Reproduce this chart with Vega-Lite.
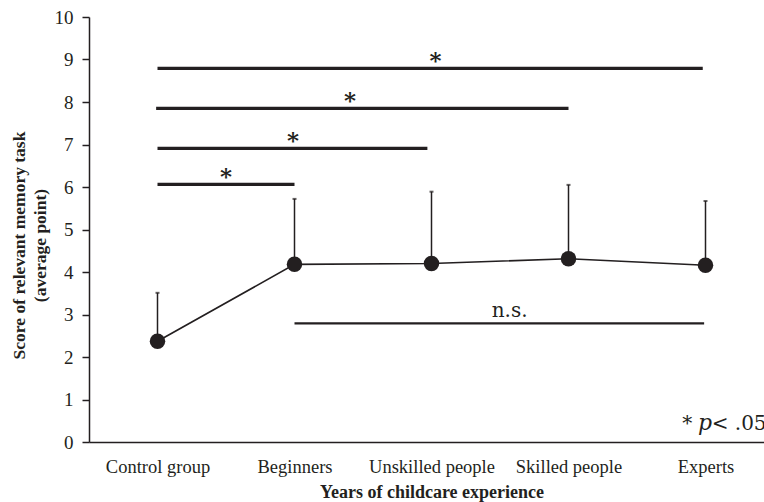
{
  "$schema": "https://vega.github.io/schema/vega-lite/v6.json",
  "width": 685,
  "height": 425,
  "autosize": {"type": "none"},
  "padding": {"left": 89, "top": 17, "right": 0, "bottom": 60},
  "background": "white",
  "config": {
    "view": {"stroke": null},
    "axis": {"grid": false, "domainColor": "#231f20", "tickColor": "#231f20", "labelColor": "#231f20", "titleColor": "#231f20", "labelFont": "Liberation Serif", "titleFont": "Liberation Serif"}
  },
  "datasets": {
    "groups": [
      {"group": "Control group", "pos": 0.5, "mean": 2.37, "upper": 3.51},
      {"group": "Beginners", "pos": 1.5, "mean": 4.18, "upper": 5.72},
      {"group": "Unskilled people", "pos": 2.5, "mean": 4.2, "upper": 5.89},
      {"group": "Skilled people", "pos": 3.5, "mean": 4.31, "upper": 6.05},
      {"group": "Experts", "pos": 4.5, "mean": 4.16, "upper": 5.67}
    ],
    "sig": [
      {"from": 0.5, "to": 4.48, "y": 8.79, "label": "*", "labelPos": 2.53},
      {"from": 0.49, "to": 3.5, "y": 7.85, "label": "*", "labelPos": 1.905},
      {"from": 0.5, "to": 2.47, "y": 6.91, "label": "*", "labelPos": 1.49},
      {"from": 0.5, "to": 1.5, "y": 6.06, "label": "*", "labelPos": 1.0}
    ],
    "ns": [
      {"from": 1.5, "to": 4.49, "y": 2.79, "label": "n.s.", "labelPos": 3.07}
    ],
    "note": [
      {"text": "*", "x": 4.33, "y": 0.28},
      {"text": "< .05", "x": 4.545, "y": 0.28}
    ],
    "noteItalic": [
      {"text": "p", "x": 4.445, "y": 0.28}
    ]
  },
  "layer": [
    {
      "data": {"name": "groups"},
      "mark": {"type": "rule", "color": "#231f20", "strokeWidth": 1.5},
      "encoding": {
        "x": {
          "field": "pos", "type": "quantitative",
          "scale": {"domain": [0, 5], "nice": false, "zero": false},
          "axis": {
            "values": [0.5, 1.5, 2.5, 3.5, 4.5],
            "labelExpr": "['Control group','Beginners','Unskilled people','Skilled people','Experts'][floor(datum.value)]",
            "ticks": false, "labelFontSize": 18.5, "labelPadding": 15,
            "title": "Years of childcare experience", "titleFontSize": 18, "titleFontWeight": "bold", "titlePadding": 8,
            "domainWidth": 1.5
          }
        },
        "y": {
          "field": "mean", "type": "quantitative",
          "scale": {"domain": [0, 10], "nice": false},
          "axis": {
            "values": [0, 1, 2, 3, 4, 5, 6, 7, 8, 9, 10],
            "tickSize": 7, "tickWidth": 1.5, "domainWidth": 1.5,
            "labelFontSize": 19, "labelPadding": 9,
            "title": ["Score of relevant memory task", "(average point)"],
            "titleFontSize": 17.5, "titleFontWeight": "bold", "titlePadding": 5, "titleLineHeight": 21,
            "titleY": 228
          }
        },
        "y2": {"field": "upper"}
      }
    },
    {
      "data": {"name": "groups"},
      "mark": {"type": "tick", "orient": "horizontal", "color": "#231f20", "size": 4, "thickness": 2},
      "encoding": {
        "x": {"field": "pos", "type": "quantitative"},
        "y": {"field": "upper", "type": "quantitative"}
      }
    },
    {
      "data": {"name": "groups"},
      "mark": {"type": "line", "color": "#231f20", "strokeWidth": 1.6},
      "encoding": {
        "x": {"field": "pos", "type": "quantitative"},
        "y": {"field": "mean", "type": "quantitative"}
      }
    },
    {
      "data": {"name": "groups"},
      "mark": {"type": "point", "filled": true, "color": "#231f20", "opacity": 1, "size": 240},
      "encoding": {
        "x": {"field": "pos", "type": "quantitative"},
        "y": {"field": "mean", "type": "quantitative"}
      }
    },
    {
      "data": {"name": "sig"},
      "mark": {"type": "rule", "color": "#231f20", "strokeWidth": 3.2},
      "encoding": {
        "x": {"field": "from", "type": "quantitative"},
        "x2": {"field": "to"},
        "y": {"field": "y", "type": "quantitative"}
      }
    },
    {
      "data": {"name": "sig"},
      "mark": {"type": "text", "color": "#231f20", "font": "DejaVu Serif", "fontSize": 23, "fontWeight": "bold", "baseline": "alphabetic", "align": "center", "dy": 0},
      "encoding": {
        "x": {"field": "labelPos", "type": "quantitative"},
        "y": {"field": "y", "type": "quantitative"},
        "text": {"field": "label"}
      }
    },
    {
      "data": {"name": "ns"},
      "mark": {"type": "rule", "color": "#231f20", "strokeWidth": 2.4},
      "encoding": {
        "x": {"field": "from", "type": "quantitative"},
        "x2": {"field": "to"},
        "y": {"field": "y", "type": "quantitative"}
      }
    },
    {
      "data": {"name": "ns"},
      "mark": {"type": "text", "color": "#231f20", "font": "DejaVu Serif", "fontSize": 20, "baseline": "alphabetic", "align": "center", "dy": -6},
      "encoding": {
        "x": {"field": "labelPos", "type": "quantitative"},
        "y": {"field": "y", "type": "quantitative"},
        "text": {"field": "label"}
      }
    },
    {
      "data": {"name": "note"},
      "mark": {"type": "text", "color": "#231f20", "font": "DejaVu Serif", "fontSize": 20, "baseline": "alphabetic", "align": "left"},
      "encoding": {
        "x": {"field": "x", "type": "quantitative"},
        "y": {"field": "y", "type": "quantitative"},
        "text": {"field": "text"}
      }
    },
    {
      "data": {"name": "noteItalic"},
      "mark": {"type": "text", "color": "#231f20", "font": "DejaVu Serif", "fontSize": 22, "fontStyle": "italic", "baseline": "alphabetic", "align": "left"},
      "encoding": {
        "x": {"field": "x", "type": "quantitative"},
        "y": {"field": "y", "type": "quantitative"},
        "text": {"field": "text"}
      }
    }
  ]
}
